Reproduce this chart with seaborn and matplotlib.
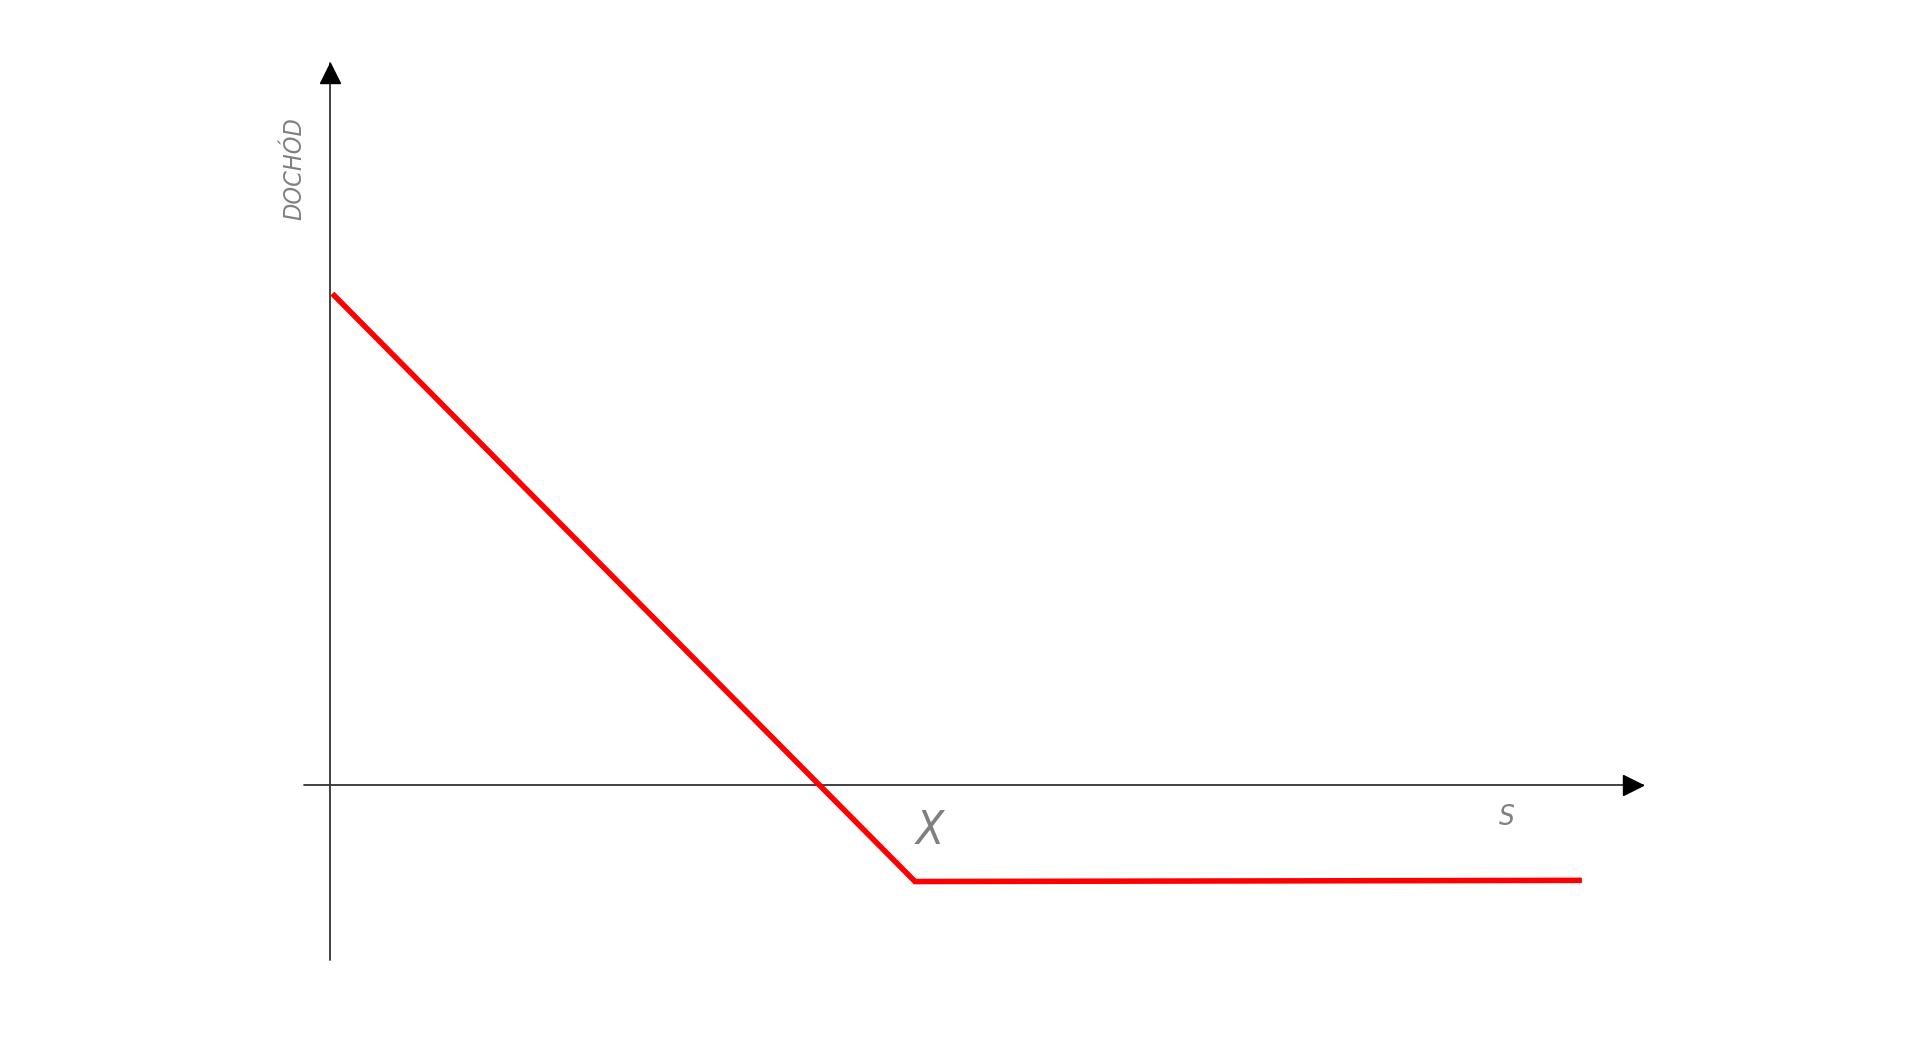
import numpy as np
import pandas as pd
import seaborn as sns
from matplotlib import pyplot as plt

# Wykres wypłaty (kupiona opcja sprzedaży, put)
ceny_s = [0.4, 100, 214]        # cena instrumentu bazowego S
dochod = [84.0, -16.5, -16.3]   # dochód z pozycji
strike = 100                    # cena wykonania X
os_x = [-4.4, 224.4]            # zakres osi S
os_y = [-29.9, 123.4]           # zakres osi dochodu

sns.set_style('white')
plt.rcParams['font.family'] = ['DejaVu Sans']

fig = plt.figure(figsize=(19.2, 10.43), dpi=100)
ax = fig.add_axes([0, 0, 1, 1])

skala = 5.85  # pikseli na jednostkę
ax.set_xlim(-330 / skala, (1920 - 330) / skala)
ax.set_ylim(-(1043 - 785) / skala, 785 / skala)

# Osie ze strzałkami
ax.plot(os_x, [0, 0], color='#333333', lw=1.3)
ax.plot([0, 0], os_y, color='#333333', lw=1.3)
ax.plot(os_x[1] - 10 / skala, 0, marker='>', color='black', markersize=14.4)
ax.plot(0, os_y[1] - 10 / skala, marker='^', color='black', markersize=14.4)

# Linia wypłaty
df = pd.DataFrame({'S': ceny_s, 'Dochód': dochod})
sns.lineplot(data=df, x='S', y='Dochód', color='red', lw=4, ax=ax,
             solid_joinstyle='miter', solid_capstyle='butt')

# Opisy
opis = dict(color='gray', style='italic', fontstretch='condensed',
            ha='center', va='center')
ax.text(-6.15, 105.3, 'DOCHÓD', rotation=90, fontsize=18, **opis)
ax.text(strike + 2.6, -7.9, 'X', fontsize=33, **opis)
ax.text(201.2, -5.5, 'S', fontsize=20, **opis)

ax.set_axis_off()
plt.savefig('out.png', dpi=100)
